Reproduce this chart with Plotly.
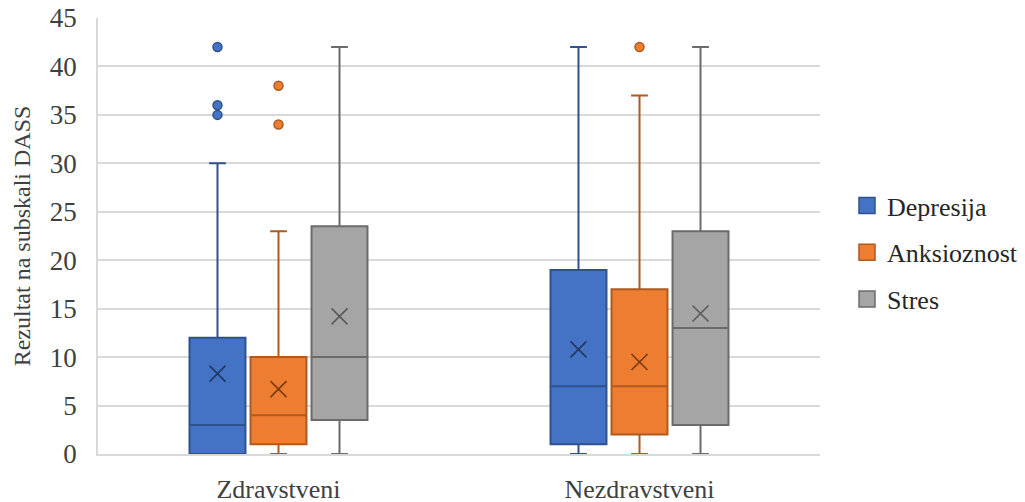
import plotly.graph_objects as go

categories = ["Zdravstveni", "Nezdravstveni"]
series = ["Depresija", "Anksioznost", "Stres"]

# per series: values for [Zdravstveni, Nezdravstveni]
q1 = {"Depresija": [0, 1], "Anksioznost": [1, 2], "Stres": [3.5, 3]}
median = {"Depresija": [3, 7], "Anksioznost": [4, 7], "Stres": [10, 13]}
q3 = {"Depresija": [12, 19], "Anksioznost": [10, 17], "Stres": [23.5, 23]}
lower = {"Depresija": [0, 0], "Anksioznost": [0, 0], "Stres": [0, 0]}
upper = {"Depresija": [30, 42], "Anksioznost": [23, 37], "Stres": [42, 42]}
mean = {"Depresija": [8.3, 10.8], "Anksioznost": [6.7, 9.5], "Stres": [14.2, 14.5]}
outliers = {"Depresija": [[35, 36, 42], []], "Anksioznost": [[34, 38], [42]], "Stres": [[], []]}

fill = {"Depresija": "#4472C4", "Anksioznost": "#ED7D31", "Stres": "#A5A5A5"}
edge = {"Depresija": "#2F528F", "Anksioznost": "#AE5A21", "Stres": "#6B6B6B"}
xmark = {"Depresija": "#22385F", "Anksioznost": "#7A3A10", "Stres": "#595959"}

slot = 0.169
bw = 0.155
font = "Liberation Serif"

fig = go.Figure()
cat_pos = list(range(len(categories)))
for i, s in enumerate(series):
    off = (i - 1) * slot
    xs = [p + off for p in cat_pos]
    fig.add_trace(go.Box(
        name=s, x=xs, q1=q1[s], median=median[s], q3=q3[s],
        lowerfence=lower[s], upperfence=upper[s],
        width=bw, whiskerwidth=0.3, fillcolor=fill[s],
        line=dict(color=edge[s], width=2), boxpoints=False,
        showlegend=False, hoverinfo="skip",
    ))
    fig.add_trace(go.Scatter(
        x=xs, y=mean[s], mode="markers", showlegend=False,
        marker=dict(symbol="x-thin-open", size=16, color=xmark[s], line=dict(color=xmark[s], width=1.6)),
        hoverinfo="skip",
    ))
    ox, oy = [], []
    for j, vals in enumerate(outliers[s]):
        for v in vals:
            ox.append(cat_pos[j] + off)
            oy.append(v)
    if ox:
        fig.add_trace(go.Scatter(
            x=ox, y=oy, mode="markers", showlegend=False,
            marker=dict(symbol="circle", size=9, color=fill[s], line=dict(color=edge[s], width=1.5)),
            hoverinfo="skip",
        ))
    # legend entry
    fig.add_trace(go.Scatter(
        x=[None], y=[None], mode="markers", name=s, legendgroup=s, showlegend=True,
        marker=dict(symbol="square", size=16, color=fill[s], line=dict(color=edge[s], width=1.5)),
    ))

fig.update_layout(
    width=1025, height=502,
    margin=dict(l=98, r=205, t=18, b=48, autoexpand=False),
    paper_bgcolor="white", plot_bgcolor="white",
    font=dict(family=font, size=26, color="#404040"),
    showlegend=True,
    legend=dict(x=1.0374, y=0.462, xanchor="left", yanchor="middle",
                font=dict(family=font, size=26, color="#262626"),
                tracegroupgap=10, itemwidth=30, itemsizing="trace"),
)
fig.update_xaxes(
    range=[-0.5, 1.5], tickvals=cat_pos, ticktext=categories,
    showgrid=False, zeroline=False, showline=True, linecolor="#D9D9D9", linewidth=2,
    ticks="", ticklabelstandoff=11, automargin=False,
    tickfont=dict(family=font, size=26, color="#404040"),
)
fig.update_yaxes(
    range=[0, 45], dtick=5, showgrid=True, gridcolor="#D9D9D9", gridwidth=1.5,
    zeroline=False, showline=True, linecolor="#D9D9D9", linewidth=1.5, ticks="",
    automargin=False, ticklabelstandoff=14,
    tickfont=dict(family=font, size=27, color="#404040"),
    title=dict(text="Rezultat na subskali DASS", font=dict(family=font, size=24, color="#404040"), standoff=12),
)

fig.write_html("out.html", config={"displayModeBar": False},
               post_script="document.body.style.margin='0';document.body.style.overflow='hidden';")
